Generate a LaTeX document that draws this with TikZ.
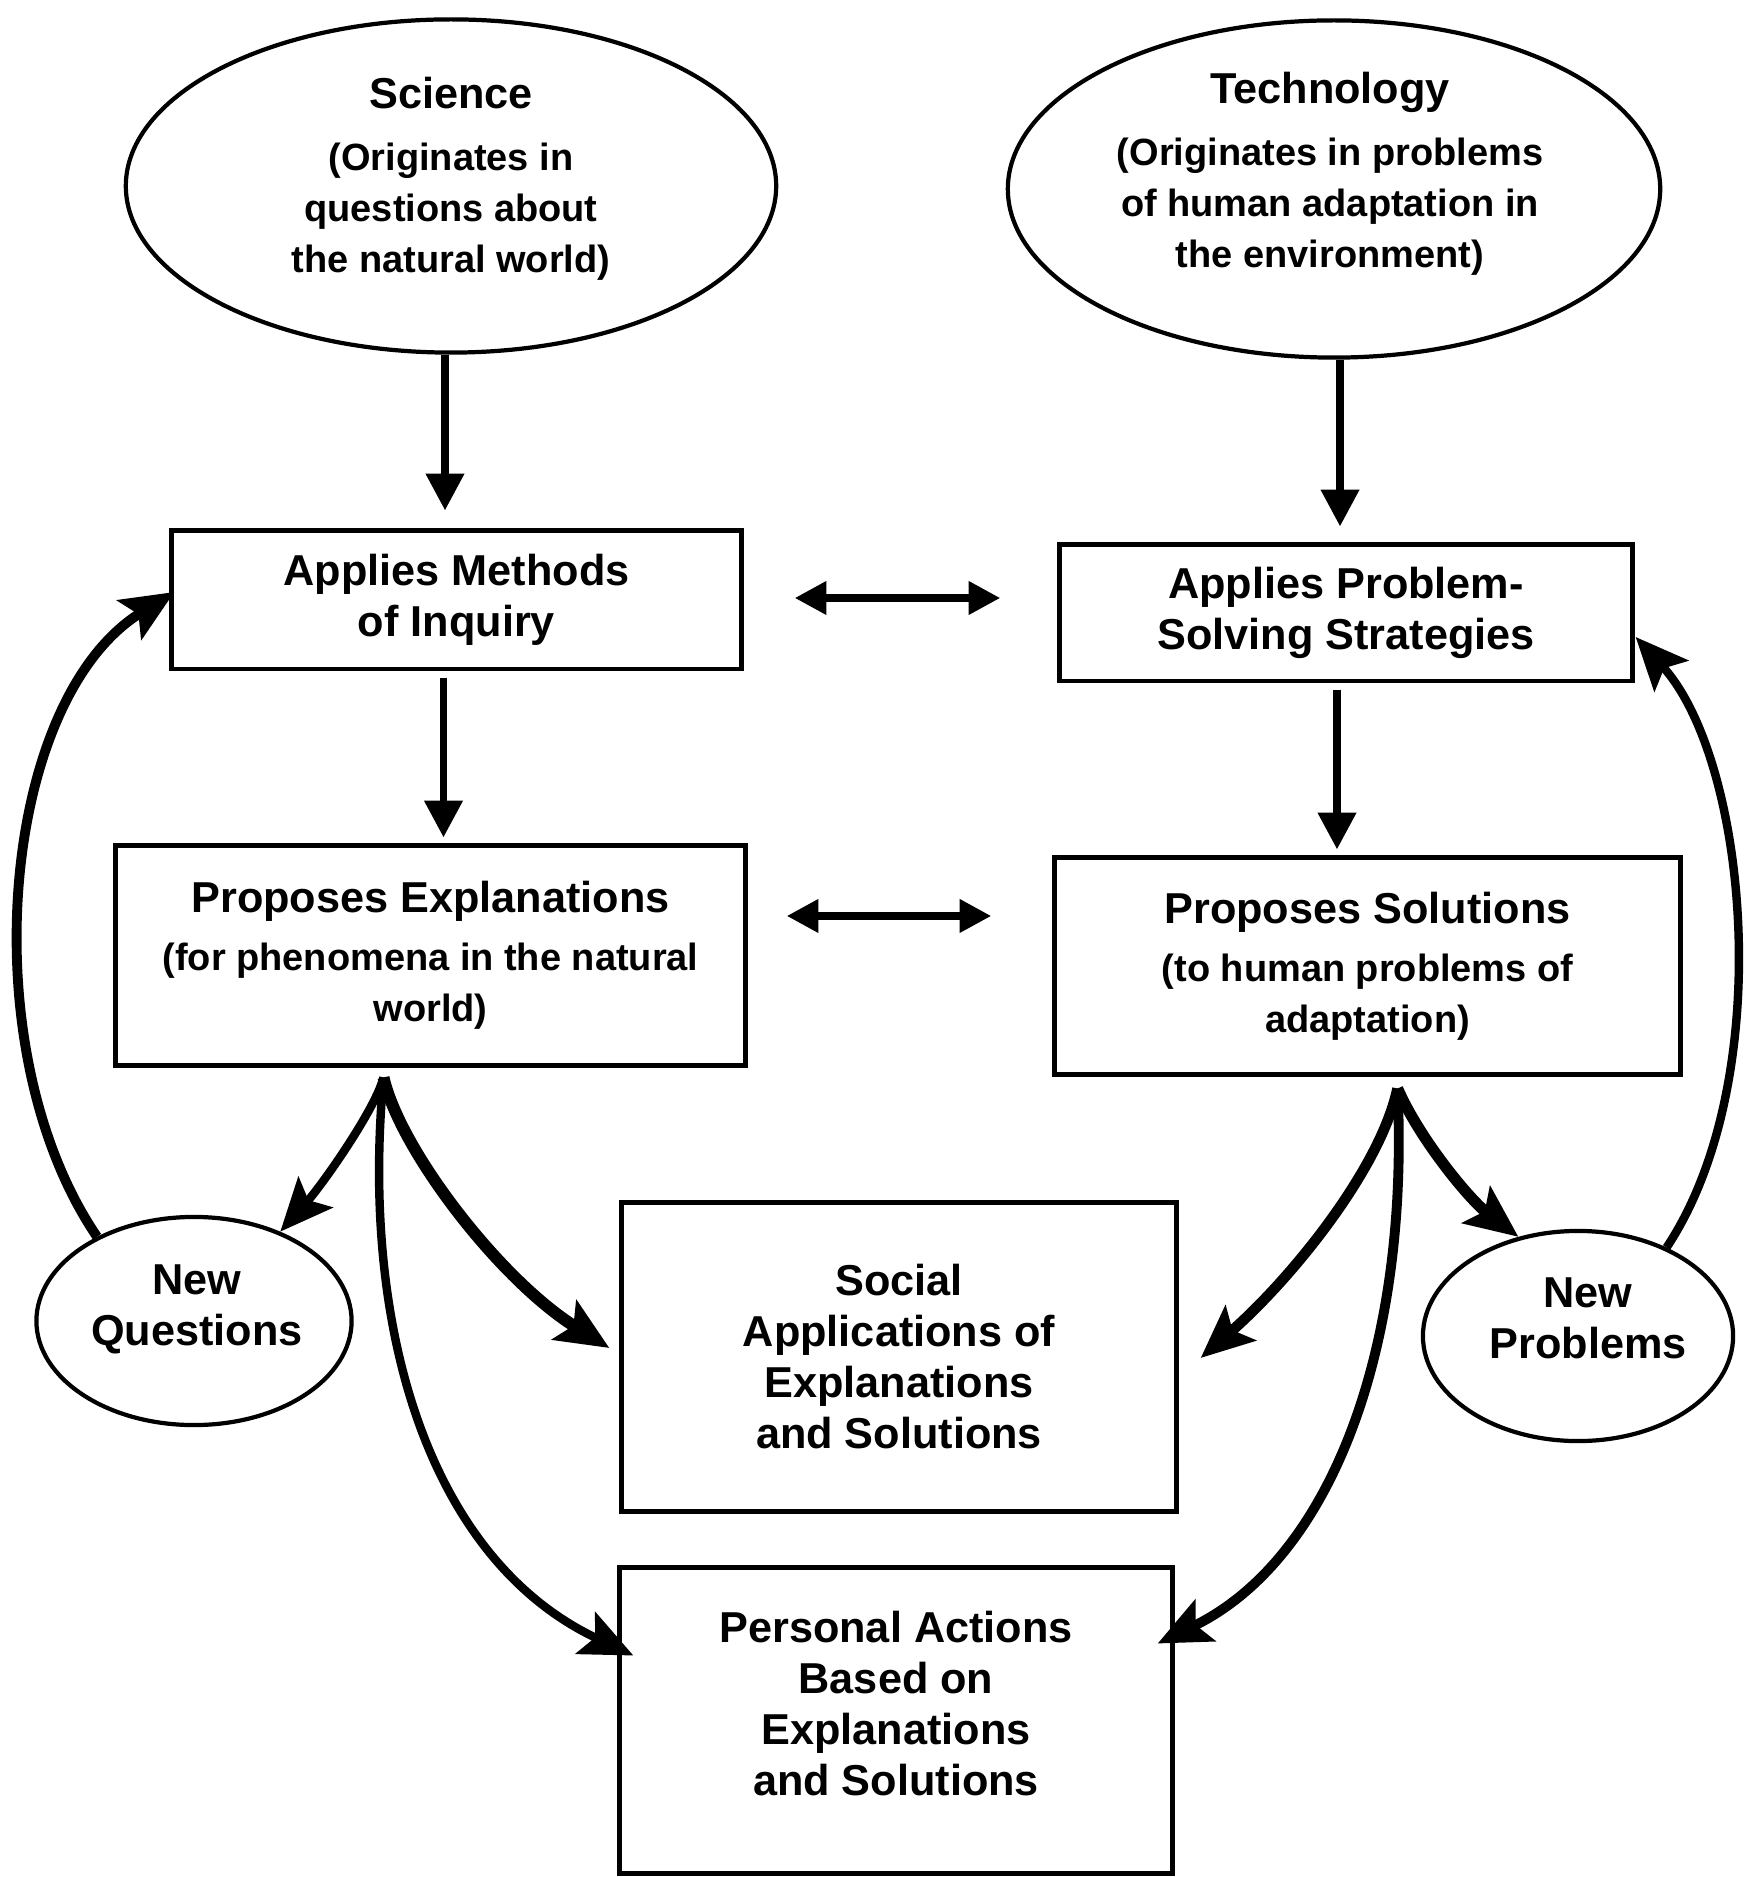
\documentclass[tikz,border=0pt]{standalone}
\usepackage{fontspec}
\setmainfont{Liberation Sans}
\usetikzlibrary{arrows.meta,calc,shapes.geometric}
\newcommand\mysub{\fontsize{10.8}{14.5}\selectfont}
\begin{document}
\begin{tikzpicture}[x=0.01cm,y=-0.01cm,
  font=\bfseries\fontsize{12.3}{14.5}\selectfont,
  box/.style={draw,line width=1.4pt,rectangle,align=center,inner sep=0pt},
  oval/.style={draw,line width=1.2pt,ellipse,inner sep=0pt},
  txt/.style={align=center,inner sep=0pt},
  arr/.style={line width=2.2pt,-{Triangle[length=10.5pt,width=10.5pt]}},
  darr/.style={line width=2.2pt,{Triangle[length=9pt,width=9pt]}-{Triangle[length=9pt,width=9pt]}},
  carr/.style={line width=2.8pt,-{Stealth[length=15pt,width=13pt,inset=3pt]}},
]
\useasboundingbox (0,0) rectangle (1754,1877);

% ellipses
\node[oval, minimum width=6.5cm, minimum height=3.33cm] (sci) at (451,186) {};
\node[txt] (scit) at (451,179) {Science\\[3pt]\mysub (Originates in\\\mysub questions about\\\mysub the natural world)};
\node[oval, minimum width=6.52cm, minimum height=3.37cm] (tech) at (1334,189) {};
\node[txt] (techt) at (1330,174) {Technology\\[3pt]\mysub (Originates in problems\\\mysub of human adaptation in\\\mysub the environment)};
\node[oval, minimum width=3.15cm, minimum height=2.08cm] (nq) at (194,1321) {};
\node[txt] (nqt) at (197,1309) {New\\Questions};
\node[oval, minimum width=3.1cm, minimum height=2.1cm] (np) at (1578,1336) {};
\node[txt] (npt) at (1588,1318) {New\\Problems};

% boxes
\node[box, minimum width=5.69cm, minimum height=1.38cm] (app) at (456.5,600) {Applies Methods\\of Inquiry};
\node[box, minimum width=5.72cm, minimum height=1.36cm] (aps) at (1346,613) {Applies Problem-\\Solving Strategies};
\node[box, minimum width=6.29cm, minimum height=2.19cm] (pe) at (430.5,955.5) {Proposes Explanations\\[2pt]\mysub (for phenomena in the natural\\\mysub world)};
\node[box, minimum width=6.25cm, minimum height=2.16cm] (ps) at (1367.5,966) {Proposes Solutions\\[2pt]\mysub (to human problems of\\\mysub adaptation)};
\node[box, minimum width=5.54cm, minimum height=3.08cm] (soc) at (899,1357) {Social\\Applications of\\Explanations\\and Solutions};
\node[box, minimum width=5.52cm, minimum height=3.05cm] (pers) at (896,1720.5) {};
\node[txt] (perst) at (896,1704) {Personal Actions\\Based on\\Explanations\\and Solutions};

% straight arrows
\draw[arr,shorten >=0.18cm] ([xshift=-0.06cm]sci.south) -- ([xshift=-0.06cm]sci.south |- app.north);
\draw[arr,shorten >=0.16cm] ([xshift=0.06cm]tech.south) -- ([xshift=0.06cm]tech.south |- aps.north);
\draw[arr,shorten <=0.06cm,shorten >=0.06cm] ([xshift=-0.13cm]app.south) -- ([xshift=-0.13cm]app.south |- pe.north);
\draw[arr,shorten <=0.06cm,shorten >=0.06cm] ([xshift=-0.09cm]aps.south) -- ([xshift=-0.09cm]aps.south |- ps.north);

% double arrows
\draw[darr,shorten <=0.51cm,shorten >=0.57cm] ([yshift=0.02cm]app.east) -- ([yshift=0.02cm]app.east -| aps.west);
\draw[darr,shorten <=0.39cm,shorten >=0.61cm] ([yshift=0.395cm]pe.east) -- ([yshift=0.395cm]pe.east -| ps.west);

% curved arrows
\coordinate (peb) at ($(pe.south)+(-47,10)$);
\coordinate (psb) at ($(ps.south)+(30,12)$);
\draw[carr,line width=2.4pt] (peb) .. controls (375,1110) and (322,1185) .. (nq.46);
\draw[carr,line width=3.4pt] (peb) .. controls (400,1150) and (500,1280) .. ($(soc.west)+(-10,-9)$);
\draw[carr,line width=2.4pt] (peb) .. controls (360,1330) and (430,1560) .. ($(pers.west)+(16,-65)$);
\draw[carr,line width=3pt] (psb) .. controls (1380,1170) and (1290,1280) .. ($(soc.east)+(22,1)$);
\draw[carr,line width=3.2pt] (psb) .. controls (1420,1140) and (1470,1200) .. (np.121);
\draw[carr,line width=2.8pt] (psb) .. controls (1410,1350) and (1330,1560) .. ($(pers.east)+(-17,-77)$);
\draw[carr,line width=2.8pt] (nq.139) .. controls (-30,1050) and (0,700) .. ($(app.west)+(5,-8)$);
\draw[carr,line width=2.4pt] (np.45) .. controls (1778,1080) and (1748,760) .. ($(aps.east)+(1,24)$);
\end{tikzpicture}
\end{document}
